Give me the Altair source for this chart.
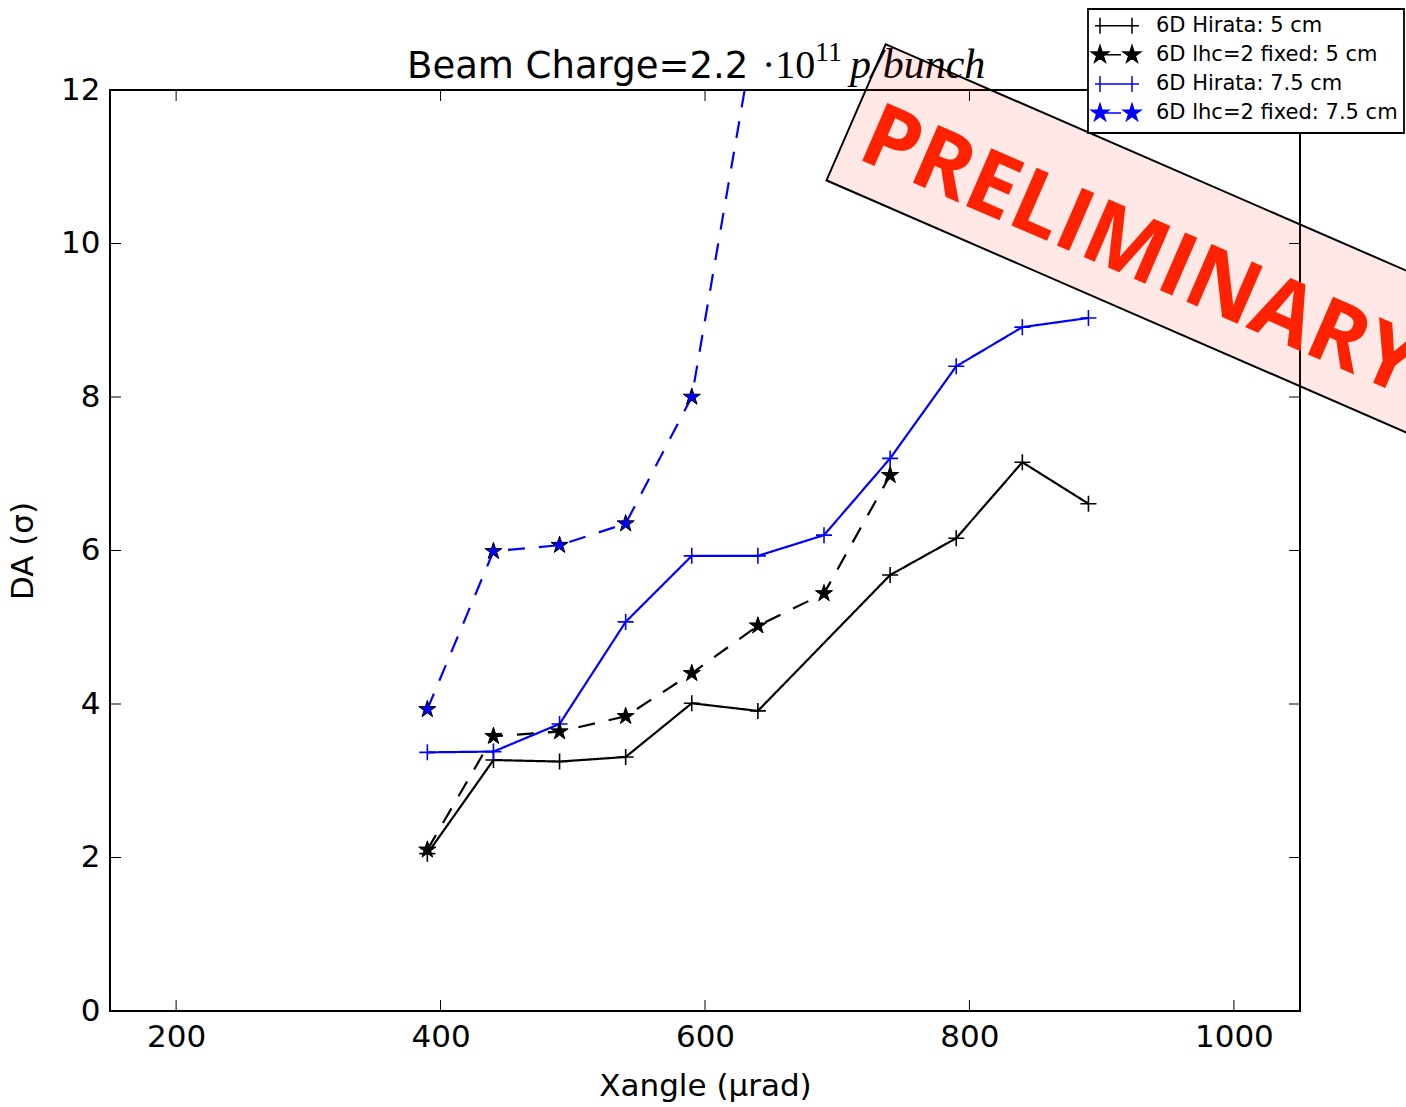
import altair as alt
import pandas as pd

series = ["6D Hirata: 5 cm", "6D lhc=2 fixed: 5 cm", "6D Hirata: 7.5 cm", "6D lhc=2 fixed: 7.5 cm"]
colors = ["#000000", "#000000", "#0000ff", "#0000ff"]

x_h5 = [390, 440, 490, 540, 590, 640, 740, 790, 840, 890]
y_h5 = [2.05, 3.27, 3.25, 3.31, 4.01, 3.91, 5.68, 6.16, 7.15, 6.61]
x_l5 = [390, 440, 490, 540, 590, 640, 690, 740]
y_l5 = [2.10, 3.58, 3.64, 3.84, 4.40, 5.02, 5.44, 6.98]
x_h75 = [390, 440, 490, 540, 590, 640, 690, 740, 790, 840, 890]
y_h75 = [3.37, 3.38, 3.74, 5.07, 5.93, 5.93, 6.20, 7.20, 8.40, 8.91, 9.03]
x_l75 = [390, 440, 490, 540, 590, 640]
y_l75 = [3.93, 5.99, 6.07, 6.35, 8.00, 13.0]

x_ticks = [200, 400, 600, 800, 1000]
y_ticks = [0, 2, 4, 6, 8, 10, 12]

rows = []
for s, xs, ys in zip(series, [x_h5, x_l5, x_h75, x_l75], [y_h5, y_l5, y_h75, y_l75]):
    for a, b in zip(xs, ys):
        rows.append({"series": s, "x": a, "y": b})
df = pd.DataFrame(rows)
xt = pd.DataFrame({"t": x_ticks})
yt = pd.DataFrame({"t": y_ticks})
one = pd.DataFrame({"a": [0]})
legend_df = pd.DataFrame({"series": series, "row": list(range(len(series)))})

W, H = 1190, 921
FONT = "DejaVu Sans"

STAR = "M0,-9L2.02,-2.78L8.56,-2.78L3.27,1.06L5.29,7.28L0,3.44L-5.29,7.28L-3.27,1.06L-8.56,-2.78L-2.02,-2.78Z"
STAR2 = "M32,-9L34.02,-2.78L40.56,-2.78L35.27,1.06L37.29,7.28L32,3.44L26.71,7.28L28.73,1.06L23.44,-2.78L29.98,-2.78Z"
PLUS = "M-8,0L8,0M0,-8L0,8"
PLUS_LEG = "M-5,0L39,0M0,-8L0,8M32,-8L32,8"
STAR_LEG = STAR + "M-5,0L21,0" + STAR2
BANNER = "M-332.5,-74.2L332.5,-74.2L332.5,74.2L-332.5,74.2Z"

xscale = alt.Scale(domain=[150, 1050], nice=False, zero=False)
yscale = alt.Scale(domain=[0, 12], nice=False, zero=False)

xaxis = alt.Axis(values=x_ticks, format="d", title="Xangle (μrad)", grid=False, ticks=False, tickSize=0,
                 domain=False, labelFont=FONT, labelFontSize=31, labelColor="black",
                 labelPadding=11, labelFlush=False, titleFont=FONT, titleFontSize=31,
                 titleFontWeight="normal", titleColor="black", titleX=595, titleY=75,
                 titleBaseline="middle", titleAlign="center")
yaxis = alt.Axis(values=y_ticks, format="d", title="DA (σ)", grid=False, ticks=False, tickSize=0,
                 domain=False, labelFont=FONT, labelFontSize=31, labelColor="black",
                 labelPadding=10, titleFont=FONT, titleFontSize=31, titleFontWeight="normal",
                 titleColor="black", titleX=-87, titleY=460.5, titleAngle=270,
                 titleBaseline="middle", titleAlign="center")

X = alt.X("x:Q", scale=xscale, axis=xaxis)
Y = alt.Y("y:Q", scale=yscale, axis=yaxis)

cscale = alt.Scale(domain=series, range=colors)
color = alt.Color("series:N", scale=cscale, legend=None)
dash = alt.StrokeDash("series:N", scale=alt.Scale(domain=series, range=[[1, 0], [17, 14], [1, 0], [17, 14]]), legend=None)

base = alt.Chart(df).encode(x=X, y=Y)

lines = base.mark_line(strokeWidth=2.2, clip=True).encode(color=color, strokeDash=dash, order="x:Q")

plus_pts = base.transform_filter(
    alt.FieldOneOfPredicate(field="series", oneOf=[series[0], series[2]])
).mark_point(shape=PLUS, size=4, filled=False, strokeWidth=1.6, opacity=1, clip=True).encode(color=color)

star_pts = base.transform_filter(
    alt.FieldOneOfPredicate(field="series", oneOf=[series[1], series[3]])
).mark_point(shape=STAR, size=4, filled=True, stroke="black", strokeWidth=1, opacity=1, clip=True).encode(color=color)

# inner ticks on all four sides (matplotlib classic style)
tick_bottom = alt.Chart(xt).mark_rule(color="black", strokeWidth=1).encode(
    x=alt.X("t:Q", scale=xscale, axis=xaxis), y=alt.value(H - 11), y2=alt.value(H))
tick_top = alt.Chart(xt).mark_rule(color="black", strokeWidth=1).encode(
    x=alt.X("t:Q", scale=xscale, axis=xaxis), y=alt.value(0), y2=alt.value(11))
tick_left = alt.Chart(yt).mark_rule(color="black", strokeWidth=1).encode(
    y=alt.Y("t:Q", scale=yscale, axis=yaxis), x=alt.value(0), x2=alt.value(11))
tick_right = alt.Chart(yt).mark_rule(color="black", strokeWidth=1).encode(
    y=alt.Y("t:Q", scale=yscale, axis=yaxis), x=alt.value(W - 11), x2=alt.value(W))

# title with math-like parts
t1 = alt.Chart(one).mark_text(text="Beam Charge=2.2", font=FONT, fontSize=37, color="black",
                              align="left", baseline="alphabetic").encode(x=alt.value(297), y=alt.value(-12))
t2 = alt.Chart(one).mark_text(text="·10", font="Liberation Serif", fontSize=40, color="black",
                              align="left", baseline="alphabetic").encode(x=alt.value(652), y=alt.value(-12))
t3 = alt.Chart(one).mark_text(text="11", font="Liberation Serif", fontSize=28, color="black",
                              align="left", baseline="alphabetic").encode(x=alt.value(705), y=alt.value(-29.4))
t4 = alt.Chart(one).mark_text(text="p/bunch", font="Liberation Serif", fontStyle="italic", fontSize=42,
                              color="black", align="left", baseline="alphabetic").encode(x=alt.value(740), y=alt.value(-12))

# PRELIMINARY banner
banner = alt.Chart(one).mark_point(shape=BANNER, size=4, angle=23.5, filled=True, fill="#ff2200",
                                   fillOpacity=0.1, stroke="black", strokeWidth=2, strokeOpacity=1,
                                   opacity=1).encode(x=alt.value(1051.0), y=alt.value(154.9))
prelim = alt.Chart(one).mark_text(text="PRELIMINARY", font="Open Sans", fontWeight="bold", fontSize=88,
                                  color="#ff2200", angle=23.5, align="left",
                                  baseline="alphabetic").encode(x=alt.value(745.1), y=alt.value(67.5))

# legend (drawn from the series list)
leg_box = alt.Chart(one).mark_rect(fill="white", stroke="black", strokeWidth=1.8).encode(
    x=alt.value(978), x2=alt.value(1294), y=alt.value(-81), y2=alt.value(43))
leg_base = alt.Chart(legend_df).transform_calculate(py="-64.3 + 29.1 * datum.row")
leg_sym = leg_base.mark_point(size=4, filled=True, strokeWidth=1.5, opacity=1).encode(
    x=alt.value(990),
    y=alt.Y("py:Q", scale=None),
    shape=alt.Shape("series:N", scale=alt.Scale(domain=series, range=[PLUS_LEG, STAR_LEG, PLUS_LEG, STAR_LEG]), legend=None),
    color=color,
    stroke=alt.Stroke("series:N", scale=alt.Scale(domain=series, range=colors), legend=None),
)
leg_txt = leg_base.mark_text(align="left", baseline="middle", font=FONT, fontSize=21, color="black").encode(
    x=alt.value(1046), y=alt.Y("py:Q", scale=None), text="series:N")

chart = alt.layer(
    lines, plus_pts, star_pts, tick_bottom, tick_top, tick_left, tick_right,
    t1, t2, t3, t4, banner, prelim, leg_box, leg_sym, leg_txt
).properties(
    width=W, height=H,
    padding={"left": 110, "top": 90, "right": 106, "bottom": 96},
    autosize=alt.AutoSizeParams(type="none"),
    background="white",
).configure_view(stroke="black", strokeWidth=2)

chart.save("out.html", embed_options={"renderer": "svg", "actions": False})
